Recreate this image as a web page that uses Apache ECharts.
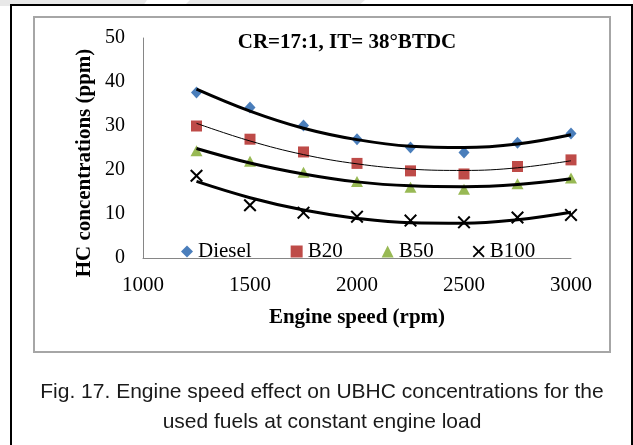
<!DOCTYPE html>
<html><head><meta charset="utf-8">
<script src="https://cdn.jsdelivr.net/npm/echarts@6/dist/echarts.min.js"></script>
<style>html,body{margin:0;padding:0;background:#fff}#c{width:633px;height:445px}</style>
</head><body><div id="c"></div>
<script>
const speeds = [1250, 1500, 1750, 2000, 2250, 2500, 2750, 3000];
const diesel = [37.6, 34.2, 30.1, 27.0, 25.1, 24.0, 26.2, 28.3];
const b20 = [30.0, 27.0, 24.1, 21.5, 19.8, 19.1, 20.8, 22.3];
const b50 = [24.4, 22.0, 19.5, 17.4, 16.1, 15.6, 16.9, 18.2];
const b100 = [18.7, 12.0, 10.3, 9.4, 8.5, 8.1, 9.2, 9.8];
const dieselTrend = [38.4, 33.4, 29.5, 26.9, 25.4, 25.1, 25.9, 28.0];
const b20Trend = [30.6, 26.6, 23.5, 21.4, 20.2, 19.9, 20.5, 22.1];
const b50Trend = [24.9, 21.6, 19.1, 17.3, 16.4, 16.2, 16.7, 18.0];
const b100Trend = [17.4, 13.7, 10.9, 9.0, 8.0, 7.9, 8.7, 10.4];
const seriesNames = ['Diesel', 'B20', 'B50', 'B100'];
const xRange = [1000, 3000, 500];
const yRange = [0, 50, 10];
const chartTitle = 'CR=17:1, IT= 38°BTDC';
const xName = 'Engine speed (rpm)';
const yName = 'HC concentrations (ppm)';
const caption1 = 'Fig. 17. Engine speed effect on UBHC concentrations for the';
const caption2 = 'used fuels at constant engine load';

const pairs = arr => speeds.map((s, i) => [s, arr[i]]);
const serif = 'Liberation Serif, Times New Roman, serif';
const sans = 'Liberation Sans, Arial, sans-serif';
const xPath = 'path://M0,1.1L1.1,0L5,3.9L8.9,0L10,1.1L6.1,5L10,8.9L8.9,10L5,6.1L1.1,10L0,8.9L3.9,5Z';

const markers = [
  {name: seriesNames[0], data: diesel, symbol: 'diamond', color: '#4a7ebb', size: [11, 12]},
  {name: seriesNames[1], data: b20, symbol: 'rect', color: '#be4b48', size: 11},
  {name: seriesNames[2], data: b50, symbol: 'triangle', color: '#98b954', size: [12, 11]},
  {name: seriesNames[3], data: b100, symbol: xPath, color: '#000', size: 13}
];
const trends = [
  {data: dieselTrend, w: 3},
  {data: b20Trend, w: 1},
  {data: b50Trend, w: 3},
  {data: b100Trend, w: 3}
];

const series = [];
markers.forEach(m => series.push({
  type: 'scatter', name: m.name, data: pairs(m.data), symbol: m.symbol, symbolSize: m.size,
  itemStyle: {color: m.color, opacity: 1}, z: 2, emphasis: {disabled: true}
}));
trends.forEach(t => series.push({
  type: 'line', data: pairs(t.data), smooth: 0.4, showSymbol: false, symbol: 'none',
  lineStyle: {color: '#000', width: t.w}, z: 3, silent: true
}));

const chart = echarts.init(document.getElementById('c'), null, {renderer: 'canvas'});
chart.setOption({
  animation: false,
  backgroundColor: '#fff',
  grid: {left: 143, right: 62, top: 38, bottom: 187, containLabel: false},
  xAxis: {
    type: 'value', min: xRange[0], max: xRange[1], interval: xRange[2],
    name: xName, nameLocation: 'middle', nameGap: 49,
    nameTextStyle: {fontFamily: serif, fontWeight: 'bold', fontSize: 21, color: '#000'},
    axisLine: {lineStyle: {color: '#868686', width: 1}},
    axisTick: {show: false}, splitLine: {show: false},
    axisLabel: {fontFamily: serif, fontSize: 21, color: '#000', margin: 17, formatter: v => String(v)}
  },
  yAxis: {
    type: 'value', min: yRange[0], max: yRange[1], interval: yRange[2],
    axisLine: {show: true, lineStyle: {color: '#868686', width: 1}},
    axisTick: {show: false}, splitLine: {show: false},
    axisLabel: {fontFamily: serif, fontSize: 20, color: '#000', margin: 18}
  },
  legend: {
    data: seriesNames, left: 176, top: 236, itemGap: 39, itemWidth: 12, itemHeight: 12,
    textStyle: {fontFamily: serif, fontSize: 21, color: '#000'},
    selectedMode: false
  },
  graphic: [
    {type: 'polygon', shape: {points: [[0, 0], [147, 0], [143, 6], [0, 6]]}, style: {fill: '#e8e8e8'}, z: -1},
    {type: 'polygon', shape: {points: [[190, 0], [365, 0], [358, 6], [184, 6]]}, style: {fill: '#e8e8e8'}, z: -1},
    {type: 'rect', shape: {x: 11, y: 5, width: 621, height: 470}, style: {fill: 'none', stroke: '#000', lineWidth: 2}},
    {type: 'rect', shape: {x: 34, y: 17, width: 576, height: 335}, style: {fill: 'none', stroke: '#a6a6a6', lineWidth: 2}},
    {type: 'text', x: 347, y: 43, style: {text: chartTitle, font: 'bold 21px ' + serif, fill: '#000', textAlign: 'center', textVerticalAlign: 'middle'}},
    {type: 'text', x: 85, y: 163, rotation: Math.PI / 2, style: {text: yName, font: 'bold 21px ' + serif, fill: '#000', textAlign: 'center', textVerticalAlign: 'middle'}},
    {type: 'text', x: 322, y: 392, style: {text: caption1, font: '21px ' + sans, fill: '#1a1a1a', textAlign: 'center', textVerticalAlign: 'middle'}},
    {type: 'text', x: 322, y: 422, style: {text: caption2, font: '21px ' + sans, fill: '#1a1a1a', textAlign: 'center', textVerticalAlign: 'middle'}}
  ],
  series: series
});
</script></body></html>
